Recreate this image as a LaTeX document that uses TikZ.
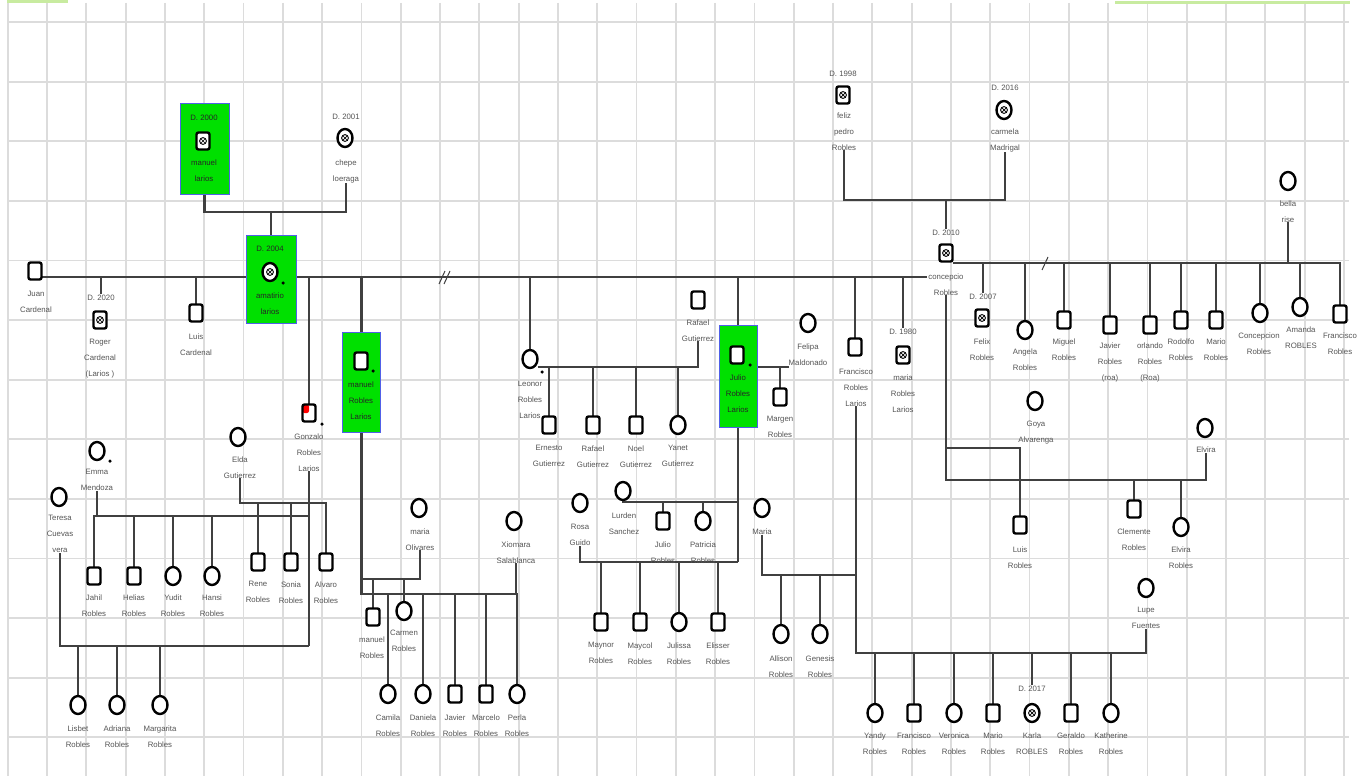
\documentclass[tikz,border=0pt]{standalone}
\usepackage{fontspec}
\setmainfont{Liberation Sans}
\usetikzlibrary{shapes.geometric,calc}
\pgfdeclarelayer{bg}
\pgfdeclarelayer{lines}
\pgfsetlayers{bg,lines,main}
\definecolor{gfill}{HTML}{00E000}
\definecolor{gborder}{HTML}{5060E8}
\definecolor{lgreen}{HTML}{C8EBA0}
\definecolor{gridc}{HTML}{DCDCDC}
\definecolor{relc}{HTML}{404040}
\definecolor{txtc}{HTML}{555555}
\tikzset{
  gridline/.style={draw=gridc, line width=1.8pt},
  rel/.style={draw=relc, line width=2.3pt},
  sym/.style={draw=black, line width=2.4pt, fill=white, inner sep=0pt, outer sep=0pt},
  male/.style={sym, rectangle, rounded corners=2pt, minimum width=13pt, minimum height=17pt},
  female/.style={sym, ellipse, minimum width=15pt, minimum height=18pt},
  dead/.style={path picture={
     \draw[line width=0.9pt] (path picture bounding box.center) circle[radius=3.4pt];
     \draw[line width=0.7pt] ($(path picture bounding box.center)+(-2.3pt,-2.3pt)$) -- ($(path picture bounding box.center)+(2.3pt,2.3pt)$);
     \draw[line width=0.7pt] ($(path picture bounding box.center)+(-2.3pt,2.3pt)$) -- ($(path picture bounding box.center)+(2.3pt,-2.3pt)$);
  }},
  redc/.style={path picture={\fill[red] (path picture bounding box.north west) rectangle (path picture bounding box.center);}},
  lbl/.style={font=\fontsize{7.8}{16}\selectfont, text=txtc, align=center, inner sep=0pt, anchor=north, yshift=3.8pt, execute at begin node={\rule{0pt}{6pt}}},
  lblg/.style={lbl, text=black!85},
  gbox/.style={draw=gborder, line width=1pt, fill=gfill, inner sep=0pt},
  kdot/.style={circle, fill=black, inner sep=0pt, minimum size=3.5pt},
  brk/.style={draw=relc, line width=1pt}
}
\begin{document}
\begin{tikzpicture}[x=1pt,y=-1pt]
\useasboundingbox (0,0) rectangle (1357,776);
\begin{pgfonlayer}{bg}
\fill[white] (0,0) rectangle (1357,776);
\foreach \k in {0,...,34} \draw[gridline] ({7.7+39.3*\k},3) -- ({7.7+39.3*\k},776);
\foreach \k in {0,...,12} \draw[gridline] (7.7,{22+59.6*\k}) -- (1349,{22+59.6*\k});
\draw[lgreen, line width=3pt] (7,2) -- (68,2);
\draw[lgreen, line width=3pt] (1115,3) -- (1350,3);
\end{pgfonlayer}

% level coordinates
\coordinate (mainE) at (927,277);
\coordinate (y200) at (0,200);
\coordinate (y212) at (0,212);
\coordinate (y263) at (0,263);
\coordinate (y367) at (0,367);
\coordinate (y448) at (0,448);
\coordinate (y480) at (0,480);
\coordinate (y502) at (0,502);
\coordinate (y503) at (0,503);
\coordinate (y516) at (0,516);
\coordinate (y562) at (0,562);
\coordinate (y575) at (0,575);
\coordinate (y579) at (0,579);
\coordinate (y594) at (0,594);
\coordinate (y646) at (0,646);
\coordinate (y653) at (0,653);

% green boxes
\node[gbox, minimum width=49pt, minimum height=91pt] (bxML) at (204.5,148.5) {};
\node[gbox, minimum width=50pt, minimum height=88pt] (bxAm) at (271,279) {};
\node[gbox, minimum width=38pt, minimum height=100pt] (bxMR) at (361.5,382) {};
\node[gbox, minimum width=38pt, minimum height=102pt] (bxJR) at (738,376) {};

% ---- top generation
\node[lblg] at (204,118) {D. 2000};
\node[male,dead] (manL) at (203,141) {};
\node[lblg] (manLt) at (204,163) {manuel\\larios};
\node[lbl] at (346,117) {D. 2001};
\node[female,dead] (chepe) at (345,138) {};
\node[lbl] (chepet) at (346,163) {chepe\\loeraga};

\node[lblg] at (270,249) {D. 2004};
\node[female,dead] (amat) at (270,272) {};
\node[kdot] at (283,283) {};
\node[lblg] at (270,296) {amatirio\\larios};

\node[male] (juan) at (35,271) {};
\node[lbl] at (36,295) {Juan\\Cardenal};

\node[lbl] (rogerD) at (101,298) {D. 2020};
\node[male,dead] (roger) at (100,320) {};
\node[lbl] at (100,343) {Roger\\Cardenal\\(Larios )};

\node[male] (luisc) at (196,313) {};
\node[lbl] at (196,337) {Luis\\Cardenal};

% Gonzalo family
\node[male,redc] (gonz) at (309,413) {};
\node[kdot] at (322,424) {};
\node[lbl] (gonzt) at (309,437) {Gonzalo\\Robles\\Larios};
\node[female] (elda) at (238,437) {};
\node[lbl] (eldat) at (240,460) {Elda\\Gutierrez};
\node[female] (emma) at (97,451) {};
\node[kdot] at (110,461) {};
\node[lbl] (emmat) at (97,473) {Emma\\Mendoza};
\node[female] (teresa) at (59,497) {};
\node[lbl] (teresat) at (60,519) {Teresa\\Cuevas\\vera};

\node[male] (jahil) at (94,576) {};
\node[lbl] at (94,598) {Jahil\\Robles};
\node[male] (helias) at (134,576) {};
\node[lbl] at (134,598) {Helias\\Robles};
\node[female] (yudit) at (173,576) {};
\node[lbl] at (173,598) {Yudit\\Robles};
\node[female] (hansi) at (212,576) {};
\node[lbl] at (212,598) {Hansi\\Robles};
\node[male] (rene) at (258,562) {};
\node[lbl] at (258,585) {Rene\\Robles};
\node[male] (sonia) at (291,562) {};
\node[lbl] at (291,585) {Sonia\\Robles};
\node[male] (alvaro) at (326,562) {};
\node[lbl] at (326,585) {Alvaro\\Robles};
\node[female] (lisbet) at (78,705) {};
\node[lbl] at (78,729) {Lisbet\\Robles};
\node[female] (adriana) at (117,705) {};
\node[lbl] at (117,729) {Adriana\\Robles};
\node[female] (margarita) at (160,705) {};
\node[lbl] at (160,729) {Margarita\\Robles};

% manuel Robles Larios family
\node[male] (manR) at (361,361) {};
\node[kdot] at (373,371) {};
\node[lblg] at (361,385) {manuel\\Robles\\Larios};
\node[female] (oliv) at (419,508) {};
\node[lbl] (olivt) at (420,532) {maria\\Olivares};
\node[female] (xiom) at (514,521) {};
\node[lbl] (xiomt) at (516,545) {Xiomara\\Salablanca};
\node[male] (mrob) at (373,617) {};
\node[lbl] at (372,640) {manuel\\Robles};
\node[female] (carmen) at (404,611) {};
\node[lbl] at (404,634) {Carmen\\Robles};
\node[female] (camila) at (388,694) {};
\node[lbl] at (388,718) {Camila\\Robles};
\node[female] (daniela) at (423,694) {};
\node[lbl] at (423,718) {Daniela\\Robles};
\node[male] (javier) at (455,694) {};
\node[lbl] at (455,718) {Javier\\Robles};
\node[male] (marcelo) at (486,694) {};
\node[lbl] at (486,718) {Marcelo\\Robles};
\node[female] (perla) at (517,694) {};
\node[lbl] at (517,718) {Perla\\Robles};

% Leonor family
\node[female] (leonor) at (530,359) {};
\node[kdot] at (542,372) {};
\node[lbl] at (530,385) {Leonor\\Robles\\Larios};
\node[male] (rafg) at (698,300) {};
\node[lbl] (rafgt) at (698,323) {Rafael\\Gutierrez};
\node[male] (ernesto) at (549,425) {};
\node[lbl] at (549,449) {Ernesto\\Gutierrez};
\node[male] (rafj) at (593,425) {};
\node[lbl] at (593,449) {Rafael\\Gutierrez};
\node[male] (noel) at (636,425) {};
\node[lbl] at (636,449) {Noel\\Gutierrez};
\node[female] (yanet) at (678,425) {};
\node[lbl] at (678,449) {Yanet\\Gutierrez};

% Julio family
\node[male] (julio) at (737,355) {};
\node[kdot] at (750,365) {};
\node[lblg] at (738,378) {Julio\\Robles\\Larios};
\node[female] (felipa) at (808,323) {};
\node[lbl] (felipat) at (808,347) {Felipa\\Maldonado};
\node[male] (margen) at (780,397) {};
\node[lbl] at (780,420) {Margen\\Robles};
\node[female] (lurden) at (623,491) {};
\node[lbl] at (624,516) {Lurden\\Sanchez};
\node[male] (julioR) at (663,521) {};
\node[lbl] at (663,545) {Julio\\Robles};
\node[female] (patricia) at (703,521) {};
\node[lbl] at (703,545) {Patricia\\Robles};
\node[female] (rosa) at (580,503) {};
\node[lbl] (rosat) at (580,528) {Rosa\\Guido};
\node[male] (maynor) at (601,622) {};
\node[lbl] at (601,646) {Maynor\\Robles};
\node[male] (maycol) at (640,622) {};
\node[lbl] at (640,646) {Maycol\\Robles};
\node[female] (julissa) at (679,622) {};
\node[lbl] at (679,646) {Julissa\\Robles};
\node[male] (elisser) at (718,622) {};
\node[lbl] at (718,646) {Elisser\\Robles};

% Francisco Robles Larios family
\node[male] (franRL) at (855,347) {};
\node[lbl] (franRLt) at (856,372) {Francisco\\Robles\\Larios};
\node[female] (maria) at (762,508) {};
\node[lbl] (mariat) at (762,532) {Maria};
\node[female] (allison) at (781,634) {};
\node[lbl] at (781,659) {Allison\\Robles};
\node[female] (genesis) at (820,634) {};
\node[lbl] at (820,659) {Genesis\\Robles};
\node[female] (lupe) at (1146,588) {};
\node[lbl] (lupet) at (1146,611) {Lupe\\Fuentes};
\node[female] (yandy) at (875,713) {};
\node[lbl] at (875,736) {Yandy\\Robles};
\node[male] (franR) at (914,713) {};
\node[lbl] at (914,736) {Francisco\\Robles};
\node[female] (veronica) at (954,713) {};
\node[lbl] at (954,736) {Veronica\\Robles};
\node[male] (mario) at (993,713) {};
\node[lbl] at (993,736) {Mario\\Robles};
\node[lbl] (karlaD) at (1032,689) {D. 2017};
\node[female,dead] (karla) at (1032,713) {};
\node[lbl] at (1032,736) {Karla\\ROBLES};
\node[male] (geraldo) at (1071,713) {};
\node[lbl] at (1071,736) {Geraldo\\Robles};
\node[female] (katherine) at (1111,713) {};
\node[lbl] at (1111,736) {Katherine\\Robles};

% maria Robles Larios
\node[lbl] (mariaD) at (903,332) {D. 1980};
\node[male,dead] (mariaRL) at (903,355) {};
\node[lbl] at (903,378) {maria\\Robles\\Larios};

% Robles ancestors
\node[lbl] at (843,74) {D. 1998};
\node[male,dead] (feliz) at (843,95) {};
\node[lbl] (felizt) at (844,116) {feliz\\pedro\\Robles};
\node[lbl] at (1005,88) {D. 2016};
\node[female,dead] (carmela) at (1004,110) {};
\node[lbl] (carmelat) at (1005,132) {carmela\\Madrigal};
\node[lbl] (concD) at (946,233) {D. 2010};
\node[male,dead] (conc) at (946,253) {};
\node[lbl] (conct) at (946,277) {concepcio\\Robles};

\node[female] (bella) at (1288,181) {};
\node[lbl] (bellat) at (1288,204) {bella\\rise};
\node[lbl] (felixD) at (983,297) {D. 2007};
\node[male,dead] (felix) at (982,318) {};
\node[lbl] at (982,342) {Felix\\Robles};
\node[female] (angela) at (1025,330) {};
\node[lbl] at (1025,352) {Angela\\Robles};
\node[male] (miguel) at (1064,320) {};
\node[lbl] at (1064,342) {Miguel\\Robles};
\node[male] (javierR) at (1110,325) {};
\node[lbl] at (1110,346) {Javier\\Robles\\(roa)};
\node[male] (orlando) at (1150,325) {};
\node[lbl] at (1150,346) {orlando\\Robles\\(Roa)};
\node[male] (rodolfo) at (1181,320) {};
\node[lbl] at (1181,342) {Rodolfo\\Robles};
\node[male] (marioR) at (1216,320) {};
\node[lbl] at (1216,342) {Mario\\Robles};
\node[female] (concepR) at (1260,313) {};
\node[lbl] at (1259,336) {Concepcion\\Robles};
\node[female] (amanda) at (1300,307) {};
\node[lbl] at (1301,330) {Amanda\\ROBLES};
\node[male] (franR2) at (1340,314) {};
\node[lbl] at (1340,336) {Francisco\\Robles};

\node[female] (goya) at (1035,401) {};
\node[lbl] at (1036,425) {Goya\\Alvarenga};
\node[male] (luisR) at (1020,525) {};
\node[lbl] at (1020,550) {Luis\\Robles};
\node[female] (elvira) at (1205,428) {};
\node[lbl] (elvt) at (1206,450) {Elvira};
\node[male] (clemente) at (1134,509) {};
\node[lbl] at (1134,532) {Clemente\\Robles};
\node[female] (elviraR) at (1181,527) {};
\node[lbl] at (1181,550) {Elvira\\Robles};

% ---- connectors
\begin{pgfonlayer}{lines}
\draw[rel] (bxML.south) |- (chepet.south |- y212) -- (chepet.south);
\draw[rel] (bxAm.north |- y212) -- (bxAm.north);
\draw[rel] (juan.east |- mainE) -- (mainE);
\draw[brk] (439,284) -- (445,271);
\draw[brk] (444,284) -- (450,271);
\draw[rel] (rogerD.north |- mainE) -- (rogerD.north);
\draw[rel] (luisc.north |- mainE) -- (luisc.north);
\draw[rel] (gonz.north |- mainE) -- (gonz.north);
\draw[rel] (gonzt.south) -- (gonzt.south |- y646);
\draw[rel] (eldat.south) |- (alvaro.north |- y503) -- (alvaro.north);
\draw[rel] (rene.north |- y503) -- (rene.north);
\draw[rel] (sonia.north |- y503) -- (sonia.north);
\draw[rel] (emmat.south) -- (emmat.south |- y516);
\draw[rel] (jahil.north) -- (jahil.north |- y516) -- (gonzt.south |- y516);
\foreach \c in {helias,yudit,hansi} \draw[rel] (\c.north |- y516) -- (\c.north);
\draw[rel] (teresat.south) |- (gonzt.south |- y646);
\foreach \c in {lisbet,adriana,margarita} \draw[rel] (\c.north |- y646) -- (\c.north);

\draw[rel] (bxMR.north |- mainE) -- (bxMR.north);
\draw[rel] (bxMR.south) -- (bxMR.south |- y594) -- (perla.north |- y594) -- (perla.north);
\draw[rel] (xiomt.south) -- (xiomt.south |- y594);
\draw[rel] (bxMR.south |- y579) -- (olivt.south |- y579) -- (olivt.south);
\foreach \c in {mrob,carmen} \draw[rel] (\c.north |- y579) -- (\c.north);
\foreach \c in {camila,daniela,javier,marcelo} \draw[rel] (\c.north |- y594) -- (\c.north);

\draw[rel] (leonor.north |- mainE) -- (leonor.north);
\draw[rel] (leonor.east |- y367) -| (rafgt.south);
\foreach \c in {ernesto,rafj,noel,yanet} \draw[rel] (\c.north |- y367) -- (\c.north);

\draw[rel] (bxJR.north |- mainE) -- (bxJR.north);
\draw[rel] (bxJR.south) -- (bxJR.south |- y562);
\draw[rel] (bxJR.east |- y367) -- (felipat.west |- y367);
\draw[rel] (margen.north |- y367) -- (margen.north);
\draw[rel] (lurden.south) |- (bxJR.south |- y502);
\foreach \c in {julioR,patricia} \draw[rel] (\c.north |- y502) -- (\c.north);
\draw[rel] (rosat.south) |- (bxJR.south |- y562);
\foreach \c in {maynor,maycol,julissa,elisser} \draw[rel] (\c.north |- y562) -- (\c.north);

\draw[rel] (franRL.north |- mainE) -- (franRL.north);
\draw[rel] (franRLt.south) -- (franRLt.south |- y653) -- (lupet.south |- y653) -- (lupet.south);
\draw[rel] (mariat.south) |- (franRLt.south |- y575);
\foreach \c in {allison,genesis} \draw[rel] (\c.north |- y575) -- (\c.north);
\foreach \c in {yandy,franR,veronica,mario,geraldo,katherine} \draw[rel] (\c.north |- y653) -- (\c.north);
\draw[rel] (karlaD.north |- y653) -- (karlaD.north);

\draw[rel] (mariaD.north |- mainE) -- (mariaD.north);

\draw[rel] (felizt.south) |- (carmelat.south |- y200) -- (carmelat.south);
\draw[rel] (concD.north |- y200) -- (concD.north);
\draw[rel] (conc.east |- y263) -- (franR2.north |- y263) -- (franR2.north);
\draw[brk] (1042,270) -- (1048,257);
\draw[rel] (bellat.south) -- (bellat.south |- y263);
\draw[rel] (felixD.north |- y263) -- (felixD.north);
\foreach \c in {angela,miguel,javierR,orlando,rodolfo,marioR,concepR,amanda} \draw[rel] (\c.north |- y263) -- (\c.north);
\draw[rel] (conct.south) -- (conct.south |- y480) -| (elvt.south);
\draw[rel] (conct.south |- y448) -- (luisR.north |- y448) -- (luisR.north);
\foreach \c in {clemente,elviraR} \draw[rel] (\c.north |- y480) -- (\c.north);
\end{pgfonlayer}
\end{tikzpicture}
\end{document}
